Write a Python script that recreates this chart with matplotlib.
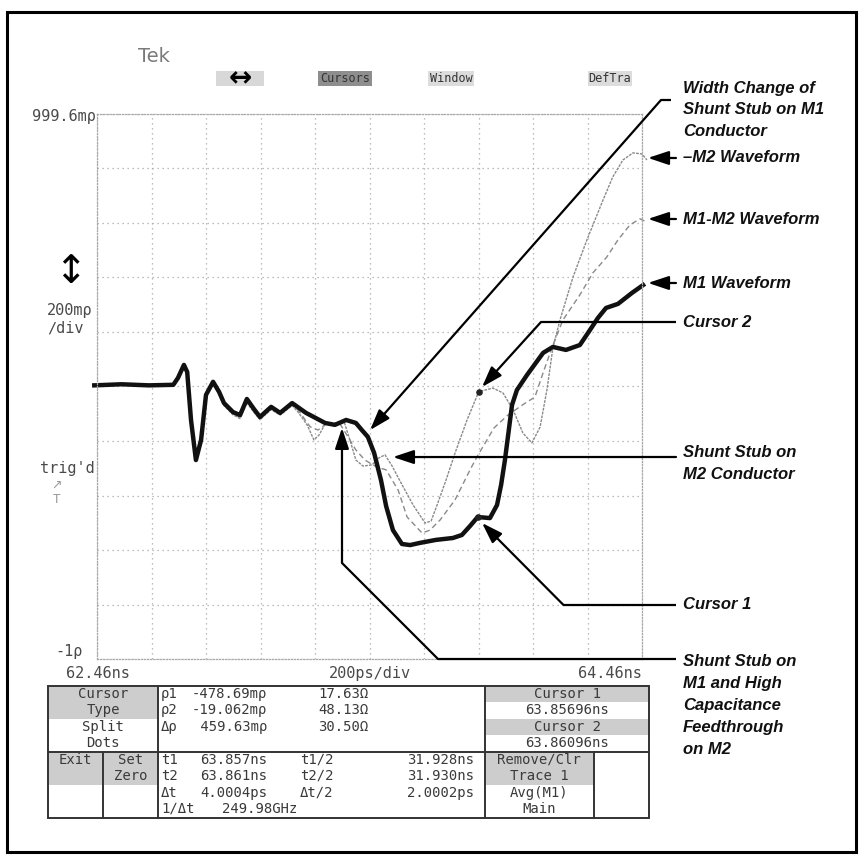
import numpy as np
import matplotlib
matplotlib.use("Agg")
import matplotlib.pyplot as plt
from matplotlib.patches import Rectangle

plt.rcParams["font.family"] = ["DejaVu Sans Mono"]

# ---- scope data: time in ns, reflection coefficient rho ----
t_start, t_end = 62.46, 64.46
rho_min, rho_max = -1.0, 0.9996

# M1 waveform (thick trace)
m1_t = [62.45, 62.55, 62.65, 62.74, 62.757, 62.779, 62.791, 62.805, 62.823, 62.842,
        62.86, 62.886, 62.908, 62.926, 62.959, 62.985, 63.01, 63.036, 63.058, 63.099,
        63.132, 63.176, 63.227, 63.297, 63.333, 63.374, 63.41, 63.432, 63.454, 63.477,
        63.502, 63.521, 63.546, 63.579, 63.609, 63.645, 63.704, 63.766, 63.799, 63.829,
        63.857, 63.902, 63.928, 63.943, 63.957, 63.968, 63.983, 64.001, 64.038, 64.097,
        64.133, 64.181, 64.232, 64.269, 64.298, 64.328, 64.372, 64.423, 64.464]
m1_rho = [0.004, 0.008, 0.004, 0.006, 0.031, 0.079, 0.053, -0.123, -0.27, -0.196,
          -0.031, 0.017, -0.02, -0.061, -0.094, -0.105, -0.046, -0.083, -0.112, -0.075,
          -0.097, -0.061, -0.097, -0.134, -0.141, -0.123, -0.134, -0.16, -0.185, -0.244,
          -0.343, -0.439, -0.527, -0.578, -0.582, -0.574, -0.563, -0.556, -0.545, -0.512,
          -0.479, -0.483, -0.435, -0.361, -0.27, -0.185, -0.068, -0.013, 0.042, 0.123,
          0.145, 0.134, 0.152, 0.207, 0.251, 0.288, 0.303, 0.343, 0.372]

# -M2 waveform (thin grey trace)
m2_t = [62.45, 62.55, 62.65, 62.74, 62.757, 62.779, 62.791, 62.805, 62.823, 62.842,
        62.86, 62.886, 62.908, 62.926, 62.959, 62.985, 63.01, 63.036, 63.058, 63.099,
        63.132, 63.176, 63.198, 63.231, 63.256, 63.275, 63.297, 63.333, 63.366, 63.388,
        63.41, 63.436, 63.469, 63.495, 63.517, 63.543, 63.572, 63.62, 63.664, 63.686,
        63.708, 63.741, 63.774, 63.818, 63.861, 63.913, 63.95, 63.987, 64.023, 64.056,
        64.086, 64.111, 64.133, 64.159, 64.207, 64.258, 64.317, 64.353, 64.39, 64.427,
        64.46, 64.478]
m2_rho = [0.004, 0.008, 0.004, 0.006, 0.028, 0.07, 0.05, -0.12, -0.26, -0.19,
          -0.035, 0.012, -0.03, -0.07, -0.104, -0.118, -0.06, -0.095, -0.122, -0.085,
          -0.105, -0.07, -0.094, -0.141, -0.196, -0.178, -0.138, -0.134, -0.127, -0.196,
          -0.27, -0.292, -0.288, -0.262, -0.251, -0.292, -0.347, -0.435, -0.501, -0.494,
          -0.435, -0.343, -0.244, -0.123, -0.019, -0.006, -0.024, -0.086, -0.171, -0.207,
          -0.149, -0.013, 0.141, 0.244, 0.402, 0.538, 0.684, 0.769, 0.831, 0.857,
          0.853, 0.831]

# M1-M2 waveform (dashed grey trace)
diff_t = [62.45, 62.55, 62.65, 62.74, 62.757, 62.779, 62.791, 62.805, 62.823, 62.842,
          62.86, 62.886, 62.908, 62.926, 62.959, 62.985, 63.01, 63.036, 63.058, 63.099,
          63.132, 63.176, 63.198, 63.242, 63.271, 63.3, 63.352, 63.381, 63.41, 63.443,
          63.487, 63.521, 63.565, 63.598, 63.653, 63.682, 63.719, 63.774, 63.829, 63.854,
          63.917, 63.968, 64.027, 64.067, 64.097, 64.133, 64.17, 64.232, 64.28, 64.331,
          64.372, 64.416, 64.453, 64.475]
diff_rho = [0.004, 0.008, 0.004, 0.006, 0.03, 0.075, 0.052, -0.12, -0.265, -0.193,
            -0.033, 0.015, -0.025, -0.066, -0.1, -0.112, -0.053, -0.09, -0.118, -0.08,
            -0.1, -0.066, -0.086, -0.148, -0.16, -0.138, -0.138, -0.185, -0.233, -0.27,
            -0.296, -0.306, -0.38, -0.479, -0.538, -0.527, -0.49, -0.416, -0.306, -0.259,
            -0.152, -0.105, -0.064, -0.039, 0.05, 0.152, 0.244, 0.336, 0.417, 0.475,
            0.538, 0.593, 0.615, 0.604]

cursor_t = [63.857, 63.861]
cursor_rho = [-0.47869, -0.019062]

# readout table texts
menu_left = ["Cursor", "Type", "Split", "Dots"]
rho_names = ["\u03c11", "\u03c12", "\u0394\u03c1"]
rho_vals = ["-478.69m\u03c1", "-19.062m\u03c1", " 459.63m\u03c1"]
ohm_vals = ["17.63\u03a9", "48.13\u03a9", "30.50\u03a9"]
cursor_box = ["Cursor 1", "63.85696ns", "Cursor 2", "63.86096ns"]
t_names = ["t1", "t2", "\u0394t"]
t_vals = ["63.857ns", "63.861ns", "4.0004ps"]
half_names = ["t1\u22152", "t2\u22152", "\u0394t\u22152"]
half_vals = ["31.928ns", "31.930ns", "2.0002ps"]
trace_box = ["Remove\u2215Clr", "Trace 1", "Avg(M1)", "Main"]

callout_labels = [["Width Change of", "Shunt Stub on M1", "Conductor"], ["\u2013M2 Waveform"],
                  ["M1-M2 Waveform"], ["M1 Waveform"], ["Cursor 2"],
                  ["Shunt Stub on", "M2 Conductor"], ["Cursor 1"],
                  ["Shunt Stub on", "M1 and High", "Capacitance", "Feedthrough", "on M2"]]

W = H = 863
fig = plt.figure(figsize=(8.63, 8.63), dpi=100)

# graticule: 10 x 10 divisions
gx0, gx1, gy0, gy1 = 97, 642, 114, 659
ax = fig.add_axes([gx0 / W, 1 - gy1 / H, (gx1 - gx0) / W, (gy1 - gy0) / H])
ax.set_xlim(t_start, t_end)
ax.set_ylim(rho_min, rho_max)
ax.set_xticks(np.linspace(t_start, t_end, 11))
ax.set_yticks(np.linspace(rho_min, rho_max, 11))
ax.tick_params(length=0, labelbottom=False, labelleft=False)
ax.grid(True, color="#a8a8a8", lw=0.9, ls=(0, (1, 3)))
for sp in ax.spines.values():
    sp.set_color("#a8a8a8")
    sp.set_linestyle((0, (1, 1.5)))
    sp.set_linewidth(0.9)
ax.patch.set_alpha(0)

ax.plot(m2_t, m2_rho, color="#8a8a8a", lw=1.0, ls=(0, (2, 0.8)), clip_on=False)
ax.plot(diff_t, diff_rho, color="#8a8a8a", lw=1.0, ls=(0, (4, 2.5)), clip_on=False)
ax.plot(m1_t, m1_rho, color="#111111", lw=3.2, solid_joinstyle="round", clip_on=False)
ax.scatter(cursor_t, cursor_rho, s=14, color="#222222", zorder=5)

# page overlay in pixel units for the screen text, table and callouts
page = fig.add_axes([0, 0, 1, 1])
page.set_xlim(0, W)
page.set_ylim(H, 0)
page.axis("off")

page.add_patch(Rectangle((7, 12), 849, 840, fill=False, lw=2.2, ec="black"))

mono = dict(color="#4a4a4a", fontsize=11, va="center")
cell = dict(color="#3a3a3a", fontsize=10, va="center")

# header
page.text(138, 57, "Tek", fontfamily="DejaVu Sans", fontsize=14, color="#7a7a7a", va="center")
buttons = [(216, 48, "\u2194", "#d8d8d8"), (318, 54, "Cursors", "#8e8e8e"),
           (428, 46, "Window", "#dcdcdc"), (588, 44, "DefTra", "#dcdcdc")]
for bx, bw, label, fc in buttons:
    page.add_patch(Rectangle((bx, 71), bw, 15, fc=fc, ec="none"))
    if label == "\u2194":
        page.text(bx + bw / 2, 78, label, fontfamily="DejaVu Sans", fontsize=20,
                  fontweight="bold", color="black", ha="center", va="center")
    else:
        page.text(bx + bw / 2, 78.5, label, fontsize=8.5, color="#333333",
                  ha="center", va="center")

# left side labels
page.text(96, 116, "999.6m\u03c1", ha="right", **mono)
page.text(70, 272, "\u2195", fontfamily="DejaVu Sans", fontsize=28, color="black",
          ha="center", va="center")
page.text(47, 310, "200m\u03c1", **mono)
page.text(47, 328, "\u2215div", **mono)
page.text(40, 468, "trig'd", **mono)
page.text(56, 485, "\u2197", fontfamily="DejaVu Sans", fontsize=9, color="#9a9a9a", ha="center", va="center")
page.text(56, 499, "T", fontsize=9, color="#9a9a9a", ha="center", va="center")
page.text(55, 651, "-1\u03c1", **mono)

# horizontal scale labels
page.text(66, 673, f"{t_start:.2f}ns", **mono)
page.text((gx0 + gx1) / 2, 673, "200ps\u2215div", ha="center", **mono)
page.text(gx1, 673, f"{t_end:.2f}ns", ha="right", **mono)

# readout table
tx0, tx1, ty0, tym, ty1 = 48, 649, 686, 752, 818
shade = "#cdcdcd"
for rx, ry, rw, rh in [(tx0, ty0, 158 - tx0, 33), (485, ty0, tx1 - 485, 16),
                       (485, 719, tx1 - 485, 16), (tx0, tym, 103 - tx0, 33),
                       (103, tym, 55, 33), (485, tym, 109, 33)]:
    page.add_patch(Rectangle((rx, ry), rw, rh, fc=shade, ec="none"))
page.add_patch(Rectangle((tx0, ty0), tx1 - tx0, ty1 - ty0, fill=False, ec="#333333", lw=1.4))
page.plot([tx0, tx1], [tym, tym], color="#333333", lw=1.4)
for vx, ya, yb in [(158, ty0, ty1), (485, ty0, ty1), (103, tym, ty1), (594, tym, ty1)]:
    page.plot([vx, vx], [ya, yb], color="#333333", lw=1.4)

row_top = [694, 710, 727, 743]
row_bot = [760, 776, 793, 809]
for y, s in zip(row_top, menu_left):
    page.text(103, y, s, ha="center", **cell)
for y, a, b, c in zip(row_top, rho_names, rho_vals, ohm_vals):
    page.text(161, y, a, **cell)
    page.text(192, y, b, **cell)
    page.text(318, y, c, **cell)
for y, s in zip(row_top, cursor_box):
    page.text(567, y, s, ha="center", **cell)
page.text(75, row_bot[0], "Exit", ha="center", **cell)
page.text(131, row_bot[0], "Set", ha="center", **cell)
page.text(131, row_bot[1], "Zero", ha="center", **cell)
for y, a, b, c, d in zip(row_bot, t_names, t_vals, half_names, half_vals):
    page.text(161, y, a, **cell)
    page.text(200, y, b, **cell)
    page.text(300, y, c, **cell)
    page.text(474, y, d, ha="right", **cell)
page.text(161, row_bot[3], "1\u2215\u0394t", **cell)
page.text(222, row_bot[3], "249.98GHz", **cell)
for y, s in zip(row_bot, trace_box):
    page.text(539, y, s, ha="center", **cell)

# callouts: first text line y, elbow path (page px), arrow tip (scope data)
label_top = [88, 158, 219, 283, 322, 452, 604.5, 661]
callout_paths = [[(671, 100), (661, 100)], [(676, 158)], [(676, 219)], [(676, 283)],
                 [(676, 322), (541, 322)], [(676, 457)], [(676, 604.5), (563, 604.5)],
                 [(676, 659), (438, 659), (342, 563)]]
callout_tips = [(63.462, -0.160), (64.482, 0.8385), (64.482, 0.6147), (64.482, 0.3798),
                (63.873, -0.002), (63.546, -0.259), (63.873, -0.501), (63.359, -0.152)]

for lines, ytop, path, tip in zip(callout_labels, label_top, callout_paths, callout_tips):
    for i, line in enumerate(lines):
        page.text(683, ytop + 22 * i, line, fontfamily="Liberation Sans",
                  fontweight="bold", fontstyle="italic", fontsize=12,
                  color="#111111", va="center")
    if len(path) > 1:
        xs, ys = zip(*path)
        page.plot(xs, ys, color="black", lw=1.6, solid_capstyle="butt")
    page.annotate("", xy=tip, xycoords=ax.transData, xytext=path[-1], textcoords="data",
                  arrowprops=dict(arrowstyle="-|>,head_length=0.9,head_width=0.3",
                                  color="black", lw=1.6, shrinkA=0, shrinkB=0,
                                  mutation_scale=14))

fig.savefig("out.png", dpi=100)
